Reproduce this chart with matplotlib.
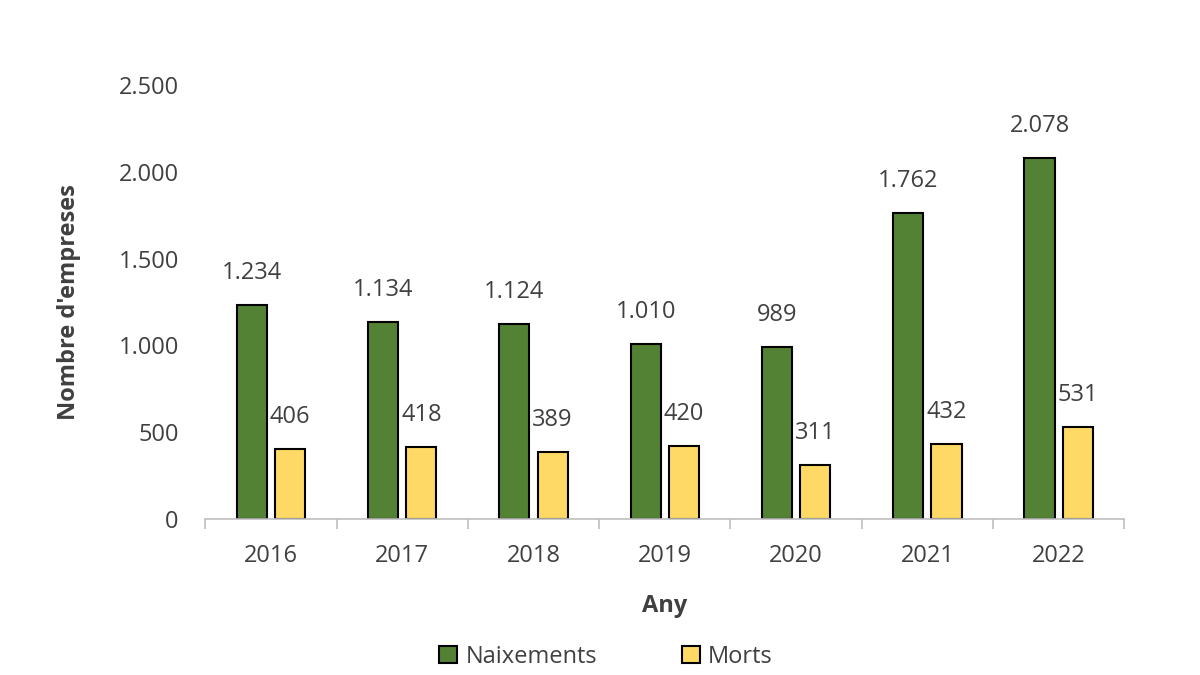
import numpy as np
import matplotlib.pyplot as plt

anys = ['2016', '2017', '2018', '2019', '2020', '2021', '2022']
naixements = [1234, 1134, 1124, 1010, 989, 1762, 2078]
morts = [406, 418, 389, 420, 311, 432, 531]

plt.rcParams['font.family'] = ['Open Sans', 'DejaVu Sans']
gris = '#404040'
fs = 17

def fmt(v):
    return '{:,}'.format(v).replace(',', '.')

fig = plt.figure(figsize=(12, 6.75), dpi=100)
ax = fig.add_axes([0.171, 0.231, 0.766, 0.643])

x = np.arange(len(anys))
w = 0.23
off = 0.146
b1 = ax.bar(x - off, naixements, w, color='#548235', edgecolor='black', lw=1.5, label='Naixements')
b2 = ax.bar(x + off, morts, w, color='#FFD966', edgecolor='black', lw=1.5, label='Morts')

# etiquetes de dades
for barres, vals in [(b1, naixements), (b2, morts)]:
    for r, v in zip(barres, vals):
        ax.annotate(fmt(v), (r.get_x() + r.get_width() / 2, v), xytext=(0, 23),
                    textcoords='offset points', ha='center', va='center',
                    fontsize=fs, color=gris)

ax.set_ylim(0, 2500)
ax.set_xlim(-0.5, len(anys) - 0.5)
ax.set_yticks(range(0, 2501, 500))
ax.set_yticklabels([fmt(v) for v in range(0, 2501, 500)], fontsize=fs, color=gris)
ax.set_xticks(x)
ax.set_xticklabels(anys, fontsize=fs, color=gris)
ax.set_xticks(np.arange(-0.5, len(anys)), minor=True)
ax.tick_params(axis='x', which='major', length=0, pad=18)
ax.tick_params(axis='x', which='minor', length=7, color='#bfbfbf', width=1.2)
ax.tick_params(axis='y', length=0, pad=19)

for s in ['top', 'right', 'left']:
    ax.spines[s].set_visible(False)
ax.spines['bottom'].set_color('#bfbfbf')
ax.spines['bottom'].set_linewidth(1.2)

ax.set_xlabel('Any', fontsize=fs, fontweight='bold', color=gris, labelpad=19)
ax.set_ylabel("Nombre d'empreses", fontsize=fs, fontweight='bold', color=gris, labelpad=27)

fig.legend(handles=[b1, b2], loc='center', bbox_to_anchor=(0.505, 0.027), ncol=2,
           frameon=False, fontsize=fs, labelcolor=gris, handlelength=0.75, handleheight=0.75,
           columnspacing=3.6, handletextpad=0.35)

fig.savefig('out.png')
